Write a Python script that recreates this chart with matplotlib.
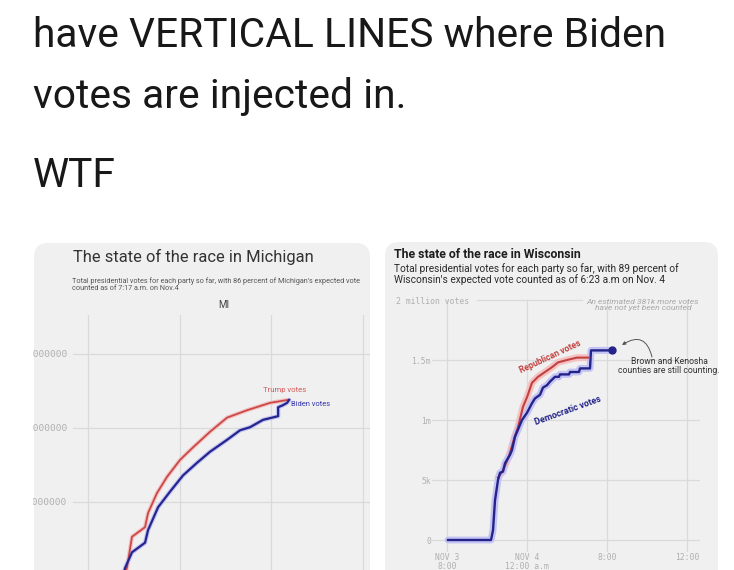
import matplotlib
matplotlib.use("Agg")
import matplotlib.pyplot as plt
from matplotlib.patches import FancyBboxPatch, Rectangle
from matplotlib.transforms import Affine2D

W, H = 734, 570

# ---- tweet text ----
tweet_lines = ["have VERTICAL LINES where Biden", "votes are injected in.", "WTF"]

# ---- Michigan (hours after first gridline, million votes) ----
mi_hours_trump = [1.57, 1.70, 1.92, 2.14, 2.49, 2.62, 3.01, 3.45, 4.02, 4.59, 5.33, 6.07, 6.94, 7.95, 8.73]
mi_trump = [0, 0.11, 0.53, 0.58, 0.66, 0.85, 1.12, 1.34, 1.57, 1.74, 1.95, 2.14, 2.24, 2.34, 2.38]
mi_hours_biden = [1.52, 1.62, 1.92, 2.49, 2.62, 3.06, 3.58, 4.15, 4.76, 5.33, 6.07, 6.64, 7.07, 7.64,
                  8.30, 8.30, 8.52, 8.69, 8.78]
mi_biden = [0, 0.11, 0.32, 0.45, 0.62, 0.93, 1.14, 1.36, 1.53, 1.68, 1.84, 1.97, 2.01, 2.11,
            2.16, 2.28, 2.31, 2.34, 2.38]
mi_yticks = [1, 2, 3]
mi_yticklabels = ["1000000", "2000000", "3000000"]
mi_xticks = [0, 4, 8, 12]

# ---- Wisconsin (hours after Nov 3 8:00 p.m., million votes) ----
wi_hours_dem = [0.05, 2.2, 2.25, 2.3, 2.4, 2.55, 2.65, 2.8, 2.9, 3.15, 3.25, 3.4, 3.55, 3.75, 4.0,
                4.25, 4.4, 4.65, 4.8, 5.0, 5.15, 5.4, 5.6, 5.65, 6.1, 6.15, 6.6, 6.65, 7.15, 7.2, 8.25]
wi_dem = [0, 0, 0.04, 0.08, 0.33, 0.50, 0.56, 0.57, 0.64, 0.71, 0.75, 0.86, 0.92, 1.00, 1.06,
          1.14, 1.18, 1.21, 1.27, 1.29, 1.32, 1.36, 1.36, 1.38, 1.38, 1.40, 1.40, 1.43, 1.43, 1.58, 1.58]
wi_hours_rep = [2.55, 2.8, 3.1, 3.4, 3.55, 3.8, 4.0, 4.25, 4.55, 4.9, 5.25, 5.55, 6.0, 6.5, 7.05]
wi_rep = [0.52, 0.58, 0.70, 0.87, 0.94, 1.11, 1.19, 1.31, 1.36, 1.40, 1.44, 1.48, 1.50, 1.52, 1.52]
wi_yticks = [0, 0.5, 1, 1.5]
wi_yticklabels = ["0", "5k", "1m", "1.5m"]
wi_xticks = [0, 4, 8, 12]
wi_xticklabels = ["NOV 3\n8:00", "NOV 4\n12:00 a.m", "8:00", "12:00"]

RED, RED_HALO = "#c2403f", "#f4c2c2"
BLUE, BLUE_HALO = "#23238a", "#c4c4f4"
CARD = "#f0f0f0"
GRID = "#dadada"
MONO = "DejaVu Sans Mono"

fig = plt.figure(figsize=(W / 100, H / 100), dpi=100)
fig.patch.set_facecolor("white")
# pixel coords, y pointing down
px = Affine2D().scale(1 / W, -1 / H).translate(0, 1) + fig.transFigure


def rect(x0, y0, x1, y1):
    return [x0 / W, 1 - y1 / H, (x1 - x0) / W, (y1 - y0) / H]


for i, line in enumerate(tweet_lines):
    fig.text(33, [47, 108, 187][i], line, transform=px, fontsize=29.3, family="Roboto",
             color="#181818", va="baseline")

# cards
for x0, y0, x1, y1 in [(34, 243, 370, 600), (385, 242, 718, 600)]:
    fig.patches.append(FancyBboxPatch((x0, y0), x1 - x0, y1 - y0, boxstyle="round,pad=0,rounding_size=14",
                                      transform=px, facecolor=CARD, edgecolor="none", zorder=-2))

# ---- Michigan ----
ax = fig.add_axes(rect(73, 315, 370, 576))
ax.set_facecolor("none")
ax.plot(mi_hours_trump, mi_trump, color=RED_HALO, lw=3, solid_capstyle="round")
ax.plot(mi_hours_biden, mi_biden, color=BLUE_HALO, lw=3.2, solid_capstyle="round")
ax.plot(mi_hours_trump, mi_trump, color="#c94848", lw=1.3)
ax.plot(mi_hours_biden, mi_biden, color="#25258e", lw=1.6)
ax.set_xlim(-0.655, 12.31)
ax.set_ylim(0, 3.527)
ax.set_yticks(mi_yticks, mi_yticklabels)
ax.set_xticks(mi_xticks, [])
ax.grid(True, color=GRID, lw=0.9)
ax.set_axisbelow(True)
ax.tick_params(length=0, pad=4)
for lb in ax.get_yticklabels():
    lb.set(family=MONO, fontsize=6.8, color="#b0b0b0")
for s in ax.spines.values():
    s.set_visible(False)
ax.text(8.6, 2.52, "Trump votes", color="#d55a5a", fontsize=5.6, ha="center", va="center", family="Roboto")
ax.text(9.7, 2.32, "Biden votes", color="#3434a8", fontsize=5.4, ha="center", va="center", family="Roboto")

fig.text(73, 257, "The state of the race in Michigan", transform=px, fontsize=11.9, family="Roboto",
         color="#333333", va="center")
fig.text(72, 285, "Total presidential votes for each party so far, with 86 percent of Michigan's expected vote\n"
         "counted as of 7:17 a.m. on Nov.4", transform=px, fontsize=5.2, family="Roboto",
         color="#555555", va="center", linespacing=1.0)
fig.text(224, 305, "MI", transform=px, fontsize=7, family="Roboto", color="#444444",
         ha="center", va="center")

# ---- Wisconsin ----
bx = fig.add_axes(rect(432, 300, 700, 552))
bx.set_facecolor("none")
bx.plot(wi_hours_rep, wi_rep, color=RED_HALO, lw=5, solid_capstyle="round")
bx.plot(wi_hours_dem, wi_dem, color=BLUE_HALO, lw=5, solid_capstyle="round")
bx.plot(wi_hours_rep, wi_rep, color=RED, lw=1.5)
bx.plot(wi_hours_dem, wi_dem, color=BLUE, lw=1.7)
bx.plot(wi_hours_dem[-1], wi_dem[-1], "o", color=BLUE, ms=5)
bx.set_xlim(-0.75, 12.65)
bx.set_ylim(-0.1, 2.0)
bx.set_yticks(wi_yticks, wi_yticklabels)
bx.set_xticks(wi_xticks, wi_xticklabels)
bx.grid(True, color=GRID, lw=0.9)
bx.set_axisbelow(True)
bx.tick_params(length=0, pad=0.8)
for lb in bx.get_yticklabels() + bx.get_xticklabels():
    lb.set(family=MONO, fontsize=5.8, color="#b0b0b0")
for lb in bx.get_xticklabels():
    lb.set(linespacing=0.92)
for s in bx.spines.values():
    s.set_visible(False)
bx.axhline(2.0, xmin=(1.5 + 0.75) / 13.4, xmax=(6.75 + 0.75) / 13.4, color=GRID, lw=0.9, clip_on=False)
bx.text(5.15, 1.53, "Republican votes", color=RED, fontsize=6.2, weight="bold", family="Roboto",
        rotation=25, ha="center", va="center", rotation_mode="anchor")
bx.text(6.05, 1.08, "Democratic votes", color=BLUE, fontsize=6.4, weight="bold", family="Roboto",
        rotation=20, ha="center", va="center", rotation_mode="anchor")
bx.text(11.1, 1.45, "Brown and Kenosha\ncounties are still counting.", fontsize=6.2, family="Roboto",
        color="#333333", ha="center", va="center", linespacing=1.1)
bx.annotate("", xy=(8.75, 1.625), xytext=(10.25, 1.525),
            arrowprops=dict(arrowstyle="-|>", color="#555555", lw=0.7, mutation_scale=5,
                            shrinkA=0, shrinkB=0, connectionstyle="arc3,rad=0.7"),
            annotation_clip=False)

fig.text(394, 254, "The state of the race in Wisconsin", transform=px, fontsize=8.8, family="Roboto",
         weight="bold", color="#1e1e1e", va="center")
fig.text(394, 274, "Total presidential votes for each party so far, with 89 percent of\n"
         "Wisconsin's expected vote counted as of 6:23 a.m on Nov. 4", transform=px, fontsize=7.3,
         family="Roboto", color="#2a2a2a", va="center", linespacing=1.0)
fig.text(396, 301, "2 million votes", transform=px, fontsize=5.9, family=MONO, color="#b0b0b0",
         va="center")
fig.text(643, 305, "An estimated 381k more votes\nhave not yet been counted", transform=px, fontsize=6.1,
         family="Roboto", style="italic", color="#a8a8a8", ha="center", va="center", linespacing=0.95)

# left edge of the screenshot cuts the Michigan labels
fig.patches.append(Rectangle((0, 240), 33, 340, transform=px, facecolor="white", edgecolor="none", zorder=5))

fig.savefig("out.png", dpi=100)
